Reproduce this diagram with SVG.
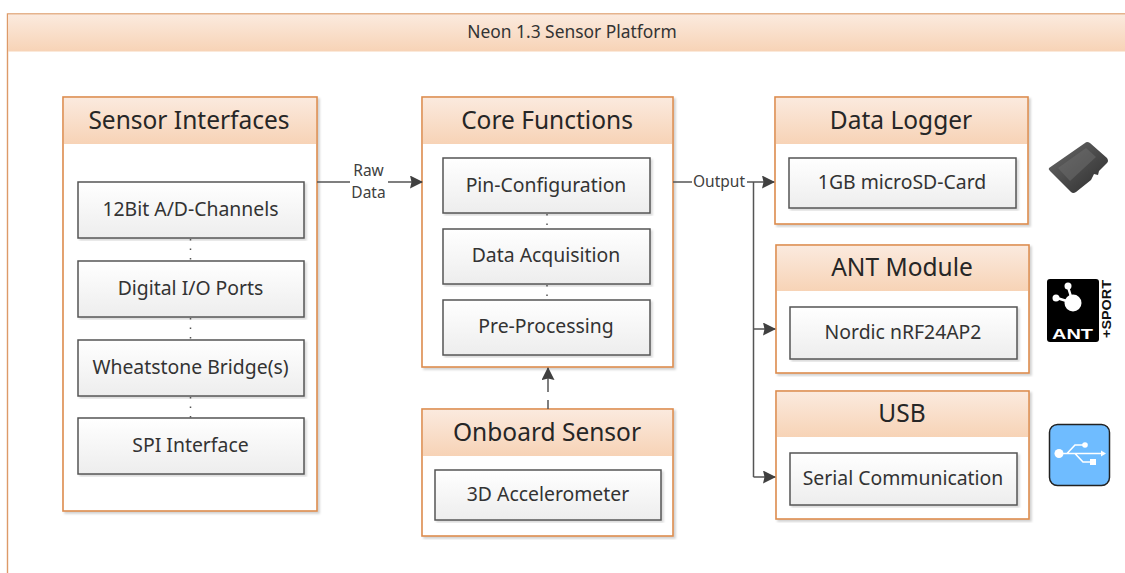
<svg xmlns="http://www.w3.org/2000/svg" width="1125" height="573" viewBox="0 0 1125 573">
<style>
text{font-family:"Noto Sans","Open Sans","Liberation Sans",sans-serif;text-anchor:middle;fill:#333}
.t{font-size:24.500px;fill:#262626}
.s{font-size:19.400px;fill:#333}
.l{font-size:15.500px;fill:#404040}
.box{fill:#fff;stroke:#dd8c4e;stroke-width:1.6;filter:url(#sh)}
.hd{fill:url(#hg)}
.in{fill:url(#ig);stroke:#555;stroke-width:1.5;filter:url(#sh2)}
.c{fill:none;stroke:#555;stroke-width:1.5}
.d{fill:none;stroke:#555;stroke-width:1.5;stroke-dasharray:1.5 8}
</style>
<defs>
<linearGradient id="hg" x1="0" y1="0" x2="0" y2="1"><stop offset="0" stop-color="#fbeade"/><stop offset="1" stop-color="#f7d3b6"/></linearGradient>
<linearGradient id="ig" x1="0" y1="0" x2="0" y2="1"><stop offset="0" stop-color="#fff"/><stop offset="1" stop-color="#ededed"/></linearGradient>
<linearGradient id="sd" x1="0" y1="0" x2="1" y2="1"><stop offset="0" stop-color="#6a6a6a"/><stop offset="1" stop-color="#2c2c2c"/></linearGradient>
<filter id="sh" x="-3%" y="-3%" width="106%" height="106%"><feDropShadow dx="2" dy="2" stdDeviation="1.2" flood-color="#000" flood-opacity=".18"/></filter>
<filter id="sh2" x="-3%" y="-5%" width="106%" height="110%"><feDropShadow dx="2" dy="2" stdDeviation="1.2" flood-color="#000" flood-opacity=".15"/></filter>
<marker id="a" markerWidth="13" markerHeight="13" refX="12" refY="6.500" orient="auto" markerUnits="userSpaceOnUse"><path d="M0 0L13 6.500L0 13L1.500 6.500Z" fill="#404040"/></marker>
</defs>
<g id="frame">
<path d="M7.500 573V14H1125" fill="none" stroke="#dd9a68" stroke-width="1.4"/>
<rect class="hd" x="8" y="14.500" width="1117" height="37"/>
<text x="572" y="38" style="font-size:17.400px">Neon 1.3 Sensor Platform</text>
</g>
<g id="sensor-interfaces">
<rect class="box" x="63" y="97" width="254" height="414"/>
<rect class="hd" x="64" y="98" width="252" height="46"/>
<text class="t" x="189" y="129">Sensor Interfaces</text>
<rect class="in" x="78" y="182" width="226" height="56"/><text class="s" x="190.500" y="216">12Bit A/D-Channels</text>
<rect class="in" x="78" y="261" width="226" height="56"/><text class="s" x="190.500" y="295">Digital I/O Ports</text>
<rect class="in" x="78" y="340" width="226" height="56"/><text class="s" x="190.500" y="374">Wheatstone Bridge(s)</text>
<rect class="in" x="78" y="418" width="226" height="56"/><text class="s" x="190.500" y="452">SPI Interface</text>
</g>
<g id="core-functions">
<rect class="box" x="422" y="97" width="251" height="270"/>
<rect class="hd" x="423" y="98" width="249" height="46"/>
<text class="t" x="547" y="129">Core Functions</text>
<rect class="in" x="443" y="158" width="207" height="55"/><text class="s" x="546" y="192">Pin-Configuration</text>
<rect class="in" x="443" y="229" width="207" height="55"/><text class="s" x="546" y="262">Data Acquisition</text>
<rect class="in" x="443" y="300" width="207" height="55"/><text class="s" x="546" y="333">Pre-Processing</text>
</g>
<g id="onboard-sensor">
<rect class="box" x="422" y="409" width="251" height="127"/>
<rect class="hd" x="423" y="410" width="249" height="46"/>
<text class="t" x="547" y="441">Onboard Sensor</text>
<rect class="in" x="435" y="470" width="226" height="50"/><text class="s" x="548" y="501">3D Accelerometer</text>
</g>
<g id="data-logger">
<rect class="box" x="775" y="97" width="253" height="127"/>
<rect class="hd" x="776" y="98" width="251" height="46"/>
<text class="t" x="901" y="129">Data Logger</text>
<rect class="in" x="789" y="158" width="227" height="50"/><text class="s" x="902" y="189">1GB microSD-Card</text>
</g>
<g id="ant-module">
<rect class="box" x="776" y="245" width="253" height="128"/>
<rect class="hd" x="777" y="246" width="251" height="45"/>
<text class="t" x="902" y="276">ANT Module</text>
<rect class="in" x="790" y="307" width="227" height="52"/><text class="s" x="903" y="339">Nordic nRF24AP2</text>
</g>
<g id="usb">
<rect class="box" x="776" y="391" width="253" height="128"/>
<rect class="hd" x="777" y="392" width="251" height="45"/>
<text class="t" x="902" y="422">USB</text>
<rect class="in" x="790" y="453" width="227" height="52"/><text class="s" x="903" y="485">Serial Communication</text>
</g>
<g id="connectors">
<path class="d" d="M190.500 239V260M190.500 318V339M190.500 397V418M547 214V228M547 285V299"/>
<path class="c" d="M317 182H350M388 182H422" marker-end="url(#a)"/>
<path class="c" d="M673 182H692M747 182H774" marker-end="url(#a)"/>
<path class="c" d="M753.500 182V477"/>
<path class="c" d="M753.500 329H775" marker-end="url(#a)"/>
<path class="c" d="M753.500 477H775" marker-end="url(#a)"/>
<path class="c" d="M548 392V368" marker-end="url(#a)"/>
<path class="c" d="M548 409V400"/>
<text class="l" x="368.500" y="176">Raw</text>
<text class="l" x="368.500" y="198">Data</text>
<text class="l" x="719" y="187">Output</text>
</g>
<g id="sd-icon">
<path d="M1049 168L1085 143Q1087 141 1090 143L1107 158Q1109 161 1107 163L1099 171L1098 175L1094 174L1091 180L1076 192Q1073 194 1071 192L1050 171Q1048 169 1049 168Z" fill="url(#sd)"/>
<path d="M1058 168L1086 148L1096 157L1070 181Z" fill="#6b6b6b" opacity=".55"/>
</g>
<g id="ant-icon">
<rect x="1047" y="279" width="52" height="63" rx="3" fill="#000"/>
<g stroke="#fff" stroke-width="2.500"><path d="M1068 287L1073 303M1057 298L1073 303"/></g>
<circle cx="1068" cy="286" r="3.500" fill="#fff"/><circle cx="1056" cy="298" r="3.500" fill="#fff"/><circle cx="1073" cy="303" r="8.500" fill="#fff"/>
<text x="1072.500" y="339" style="font-size:15px;font-weight:700;fill:#fff;font-family:'Liberation Sans',sans-serif" textLength="41" lengthAdjust="spacingAndGlyphs">ANT</text>
<text transform="translate(1110.500 338) rotate(-90)" style="font-size:12px;font-weight:700;fill:#111;text-anchor:start;font-family:'Liberation Sans',sans-serif" textLength="58" lengthAdjust="spacingAndGlyphs">+SPORT</text>
</g>
<g id="usb-icon">
<rect x="1049.500" y="424.500" width="60" height="61" rx="8" fill="#6fbcff" stroke="#222" stroke-width="1.500"/>
<g fill="none" stroke="#fff" stroke-width="1.600"><path d="M1059 453.500H1103M1067 453.500L1075 445H1084M1075 453.500L1083 462H1091"/></g>
<g fill="#fff"><circle cx="1059" cy="453.500" r="4.500"/><circle cx="1085" cy="445" r="2.800"/><rect x="1090" y="459" width="6" height="6"/><path d="M1101 450.500L1106 453.500L1101 456.500Z"/></g>
</g>
</svg>
